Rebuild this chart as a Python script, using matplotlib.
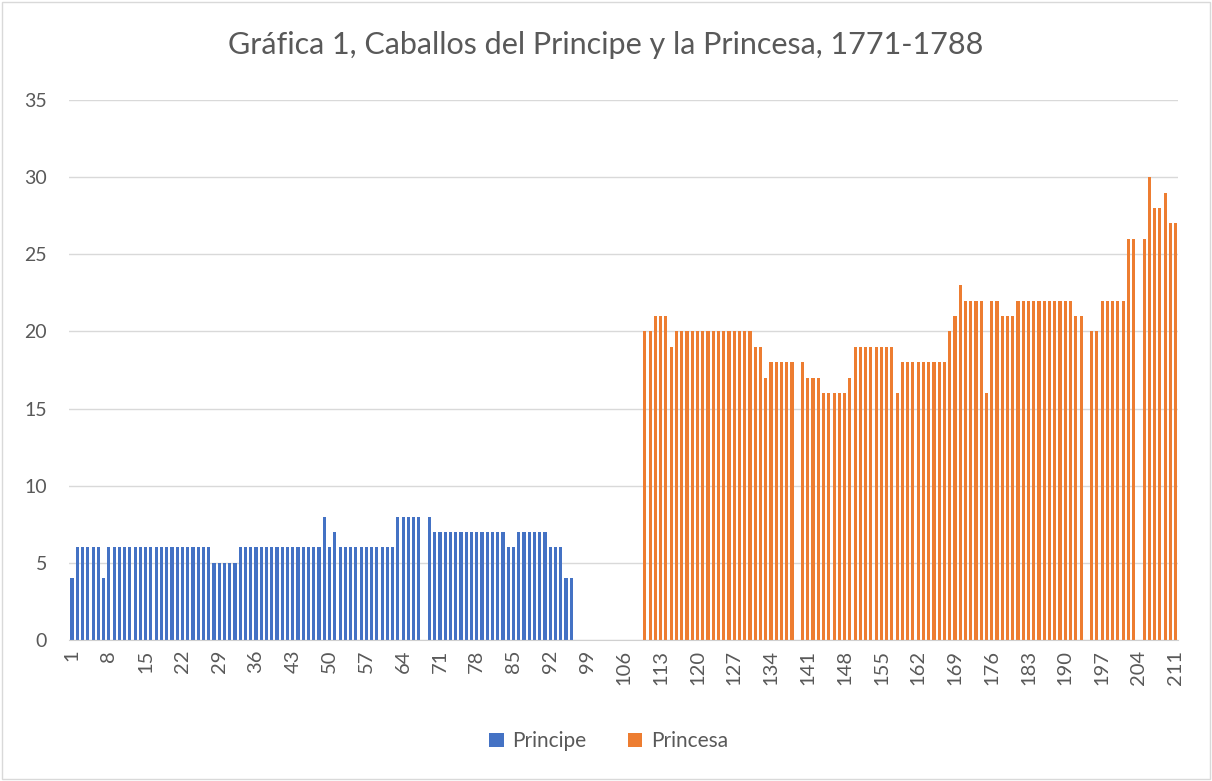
import numpy as np
import matplotlib.pyplot as plt
from matplotlib.patches import Rectangle

nan = np.nan

# Principe: categorias 1-96
principe = [
    4, 6, 6, 6, 6, 6, 4, 6, 6, 6,        # 1-10
    6, 6, 6, 6, 6, 6, 6, 6, 6, 6,        # 11-20
    6, 6, 6, 6, 6, 6, 6, 5, 5, 5,        # 21-30
    5, 5, 6, 6, 6, 6, 6, 6, 6, 6,        # 31-40
    6, 6, 6, 6, 6, 6, 6, 6, 8, 6,        # 41-50
    7, 6, 6, 6, 6, 6, 6, 6, 6, 6,        # 51-60
    6, 6, 8, 8, 8, 8, 8, nan, 8, 7,      # 61-70
    7, 7, 7, 7, 7, 7, 7, 7, 7, 7,        # 71-80
    7, 7, 7, 6, 6, 7, 7, 7, 7, 7,        # 81-90
    7, 6, 6, 6, 4, 4]                    # 91-96

# Princesa: categorias 110-211
princesa = [
    20, 20, 21, 21, 21, 19, 20, 20, 20, 20,      # 110-119
    20, 20, 20, 20, 20, 20, 20, 20, 20, 20,      # 120-129
    20, 19, 19, 17, 18, 18, 18, 18, 18, nan,     # 130-139
    18, 17, 17, 17, 16, 16, 16, 16, 16, 17,      # 140-149
    19, 19, 19, 19, 19, 19, 19, 19, 16, 18,      # 150-159
    18, 18, 18, 18, 18, 18, 18, 18, 20, 21,      # 160-169
    23, 22, 22, 22, 22, 16, 22, 22, 21, 21,      # 170-179
    21, 22, 22, 22, 22, 22, 22, 22, 22, 22,      # 180-189
    22, 22, 21, 21, nan, 20, 20, 22, 22, 22,     # 190-199
    22, 22, 26, 26, nan, 26, 30, 28, 28, 29,     # 200-209
    27, 27]                                       # 210-211

x_principe = np.arange(1, 1 + len(principe))
x_princesa = np.arange(110, 110 + len(princesa))
tick_pos = np.arange(1, 212, 7)

plt.rcParams['font.family'] = ['Lato', 'DejaVu Sans']
gris = '#595959'

fig = plt.figure(figsize=(12.12, 7.81), dpi=100)
ax = fig.add_axes([0.0573, 0.1805, 0.9149, 0.6915])

ax.bar(x_principe, principe, width=0.6, color='#4472C4', label='Principe', zorder=2)
ax.bar(x_princesa, princesa, width=0.6, color='#ED7D31', label='Princesa', zorder=2)

ax.set_xlim(0.5, 211.5)
ax.set_ylim(0, 35)
ax.set_yticks(range(0, 36, 5))
ax.set_xticks(tick_pos)
ax.set_xticklabels([str(t) for t in tick_pos], rotation=90, va='top', ha='center')
ax.tick_params(axis='y', length=0, pad=16, labelsize=14, labelcolor=gris)
ax.tick_params(axis='x', length=0, pad=7, labelsize=14.5, labelcolor=gris)

ax.grid(axis='y', color='#d9d9d9', lw=1, zorder=0)
for s in ['top', 'right', 'left']:
    ax.spines[s].set_visible(False)
ax.spines['bottom'].set_color('#d0d0d0')
ax.spines['bottom'].set_zorder(3)

fig.text(0.5, 0.942, 'Gráfica 1, Caballos del Principe y la Princesa, 1771-1788',
         ha='center', va='center', fontsize=22, color=gris)

fig.legend(loc='center', bbox_to_anchor=(0.502, 0.051), ncol=2, frameon=False,
           fontsize=15, handlelength=0.7, handleheight=0.7, handletextpad=0.4,
           columnspacing=2.0, labelcolor=gris)

fig.patches.append(Rectangle((0.002, 0.003), 0.996, 0.994, transform=fig.transFigure,
                             fill=False, edgecolor='#d9d9d9', lw=1))

plt.savefig('out.png', dpi=100)
